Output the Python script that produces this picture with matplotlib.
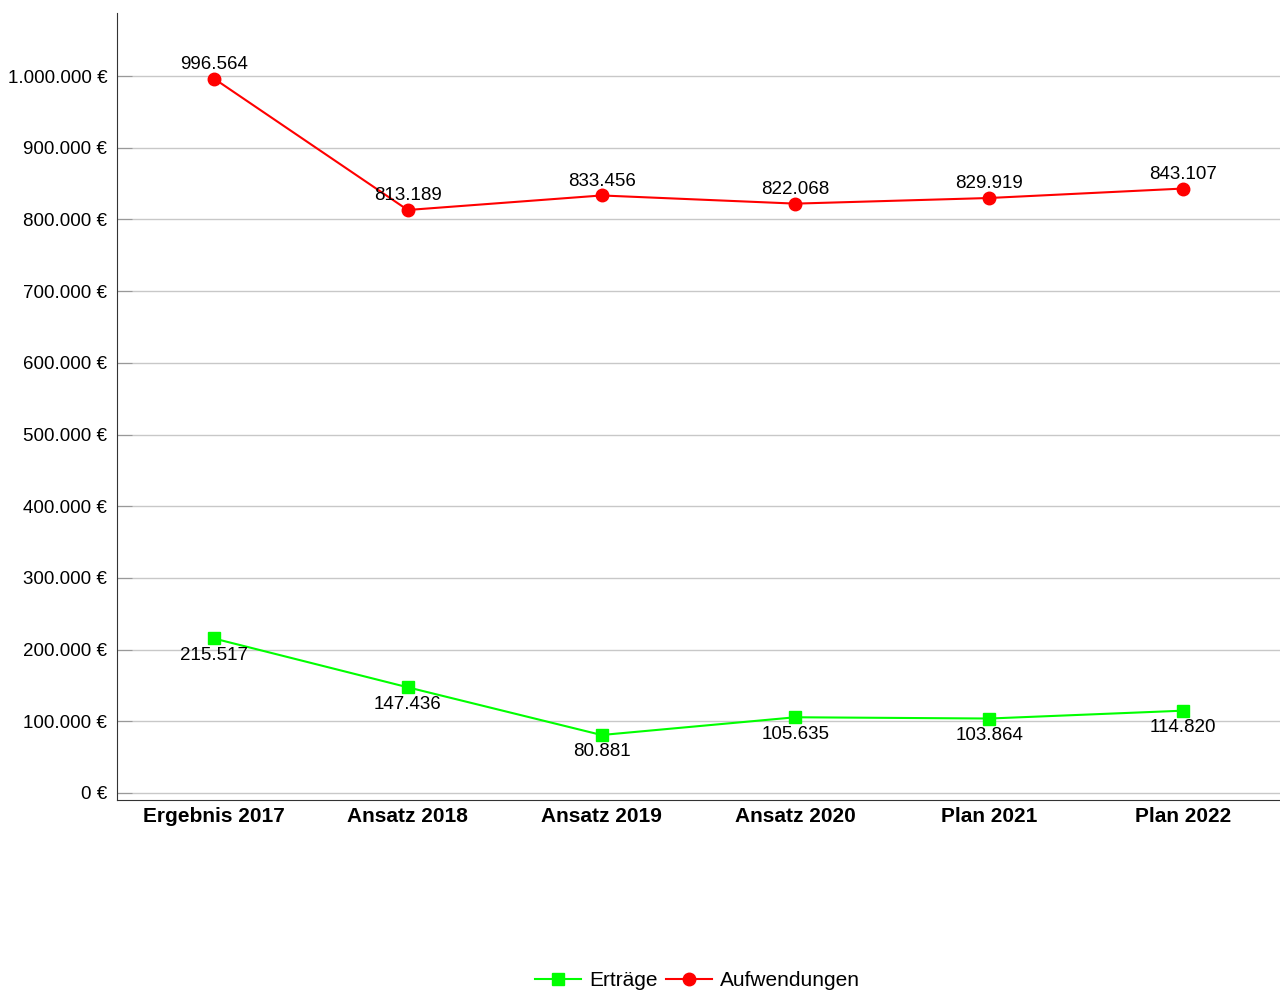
import matplotlib.pyplot as plt
from matplotlib.ticker import FuncFormatter

plt.rcParams['font.family'] = ['Liberation Sans', 'DejaVu Sans']

categories = ['Ergebnis 2017', 'Ansatz 2018', 'Ansatz 2019', 'Ansatz 2020', 'Plan 2021', 'Plan 2022']
ertraege = [215517, 147436, 80881, 105635, 103864, 114820]
aufwendungen = [996564, 813189, 833456, 822068, 829919, 843107]
yticks = [0, 100000, 200000, 300000, 400000, 500000, 600000, 700000, 800000, 900000, 1000000]


def fmt_de(v):
    return f'{int(round(v)):,}'.replace(',', '.')


fig = plt.figure(figsize=(12.8, 9.9), dpi=100)
ax = fig.add_axes([0.0914, 0.1919, 0.9086, 0.795])

x = range(len(categories))
ax.plot(x, ertraege, color='#00ff00', marker='s', markersize=9, linewidth=1.5, label='Erträge')
ax.plot(x, aufwendungen, color='#ff0000', marker='o', markersize=9, linewidth=1.5, label='Aufwendungen')

for i, v in enumerate(ertraege):
    ax.annotate(fmt_de(v), (i, v), xytext=(0, -6), textcoords='offset points',
                ha='center', va='top', fontsize=13.5)
for i, v in enumerate(aufwendungen):
    ax.annotate(fmt_de(v), (i, v), xytext=(0, 4), textcoords='offset points',
                ha='center', va='bottom', fontsize=13.5)

ax.set_xlim(-0.5, 5.5)
ax.set_ylim(-9800, 1088000)
ax.set_xticks(list(x))
ax.set_xticklabels(categories, fontsize=15, fontweight='bold')
ax.tick_params(axis='x', length=0, pad=5)
ax.set_yticks(yticks)
ax.yaxis.set_major_formatter(FuncFormatter(lambda v, p: fmt_de(v) + ' €'))
ax.tick_params(axis='y', direction='in', length=11, color='#999999', labelsize=13.5, pad=7)
ax.grid(axis='y', color='#c8c8c8', linewidth=1)
ax.set_axisbelow(True)

for s in ['top', 'right']:
    ax.spines[s].set_visible(False)
ax.spines['left'].set_color('#333333')
ax.spines['bottom'].set_color('#333333')

fig.legend(loc='lower center', bbox_to_anchor=(0.545, -0.019), ncol=2, frameon=False,
           fontsize=15, handlelength=2.2, columnspacing=0.4, handletextpad=0.4)

fig.savefig('out.png', dpi=100)
